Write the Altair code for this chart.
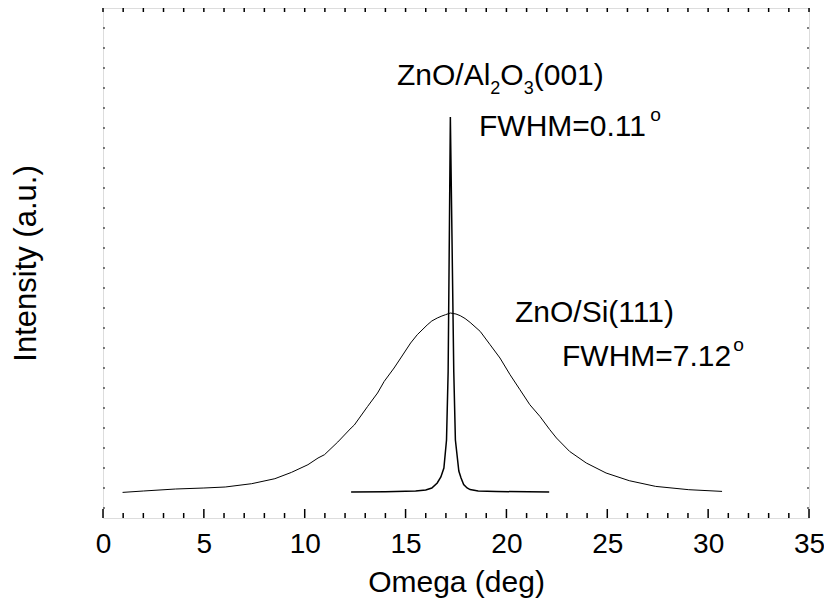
import altair as alt
import pandas as pd

# ---------------- data ----------------
# ZnO/Si(111) rocking curve (broad)
si_omega = [0.97, 2.0, 3.6, 5.0, 6.06, 7.37, 8.52, 9.34, 10.16, 10.66, 10.98, 11.64,
            12.3, 12.46, 13.12, 13.61, 13.94, 14.43, 14.76, 15.25, 15.58, 16.07, 16.3,
            16.57, 16.8, 16.98, 17.22, 17.5, 17.71, 17.95, 18.2, 18.7, 19.19, 19.68,
            20.18, 20.67, 21.16, 21.66, 22.15, 22.48, 23.13, 23.96, 24.94, 26.09,
            27.4, 29.04, 30.69]
si_int = [25.6, 27.0, 29.0, 30.0, 31.0, 34.3, 39.3, 45.6, 53.3, 60.0, 63.3, 76.0,
          90.0, 93.0, 111.6, 125.0, 136.6, 150.0, 160.0, 175.0, 183.3, 193.0, 197.0,
          200.0, 202.0, 203.3, 205.0, 204.0, 202.3, 199.5, 195.6, 186.6, 173.3, 160.0,
          143.3, 128.3, 113.3, 101.6, 88.3, 80.0, 66.6, 55.0, 45.0, 37.3,
          31.6, 28.3, 26.6]

# ZnO/Al2O3(001) rocking curve (narrow)
al_omega = [12.3, 14.0, 15.5, 16.0, 16.3, 16.57, 16.75, 16.9, 17.03, 17.11, 17.17,
            17.22, 17.3, 17.39, 17.47, 17.64, 17.75, 17.88, 18.05, 18.2, 18.6, 19.5, 22.12]
al_int = [26.0, 26.3, 27.0, 28.0, 30.0, 35.0, 41.0, 50.0, 78.0, 146.0, 282.0,
          401.0, 282.0, 146.0, 78.0, 47.0, 40.0, 33.5, 30.0, 28.4, 27.0, 26.5, 26.0]

x_major = [0, 5, 10, 15, 20, 25, 30, 35]
x_minor = [v for v in range(0, 36) if v % 5 != 0]
x_all = list(range(0, 36))
y_minor = [10 + 20 * k for k in range(25)]

# ---------------- layout ----------------
W, H = 706, 510
FONT = "Liberation Sans"
FS = 30

xs = alt.Scale(domain=[0, 35], nice=False, zero=False)
ys = alt.Scale(domain=[0, 510], nice=False, zero=False)

x_axis = alt.Axis(values=x_major, title="Omega (deg)", grid=False, ticks=False,
                  domain=False, labelFont=FONT, labelFontSize=28, labelColor="black",
                  labelPadding=12, titleFont=FONT, titleFontSize=FS,
                  titleFontWeight="normal", titleColor="black", titlePadding=9,
                  labelFlush=False)
y_axis = alt.Axis(labels=False, ticks=False, domain=False, grid=False,
                  title="Intensity (a.u.)", titleFont=FONT, titleFontSize=31,
                  titleFontWeight="normal", titleColor="black", titlePadding=61)

si_df = pd.DataFrame({"omega": si_omega, "intensity": si_int})
al_df = pd.DataFrame({"omega": al_omega, "intensity": al_int})

si_line = alt.Chart(si_df).mark_line(color="black", strokeWidth=1).encode(
    x=alt.X("omega:Q", scale=xs, axis=x_axis),
    y=alt.Y("intensity:Q", scale=ys, axis=y_axis),
)
al_line = alt.Chart(al_df).mark_line(color="black", strokeWidth=1.5).encode(
    x=alt.X("omega:Q", scale=xs, axis=x_axis),
    y=alt.Y("intensity:Q", scale=ys, axis=y_axis),
)

def xticks(vals, length, top):
    df = pd.DataFrame({"omega": vals})
    y0, y1 = (0, length) if top else (H, H - length)
    return alt.Chart(df).mark_rule(color="black", strokeWidth=1.5).encode(
        x=alt.X("omega:Q", scale=xs, axis=x_axis),
        y=alt.value(y0), y2=alt.value(y1))

def yticks(vals, length, right):
    df = pd.DataFrame({"intensity": vals})
    x0, x1 = (W, W - length) if right else (0, length)
    return alt.Chart(df).mark_rule(color="black", strokeWidth=1).encode(
        y=alt.Y("intensity:Q", scale=ys, axis=y_axis),
        x=alt.value(x0), x2=alt.value(x1))

# text helpers (Arial / Liberation Sans advance widths per 1000 em)
ADV = {'Z': 611, 'n': 556, 'O': 778, '/': 278, 'A': 667, 'l': 222, '2': 556, '3': 556,
       '(': 333, ')': 333, '0': 556, '1': 556, 'F': 611, 'W': 944, 'H': 722, 'M': 833,
       '=': 584, '.': 278, '7': 556, 'S': 667, 'i': 222, 'o': 556}

def adv(s, size):
    return sum(ADV.get(c, 556) for c in s) * size / 1000.0

one = pd.DataFrame({"k": [0]})

def rich(segments, x0, y0, size=FS):
    layers = []
    x = x0
    for s, kind in segments:
        if kind == "n":
            fs, yy = size, y0
        elif kind == "sub":
            fs, yy = size * 0.6, y0 + 9
        else:
            fs, yy = size * 0.64, y0 - 15
            x += 2
        layers.append(alt.Chart(one).mark_text(
            text=s, align="left", baseline="alphabetic", font=FONT,
            fontSize=fs, color="black").encode(x=alt.value(x), y=alt.value(yy)))
        x += adv(s, fs)
    return layers

labels = []
labels += rich([("ZnO/Al", "n"), ("2", "sub"), ("O", "n"), ("3", "sub"), ("(001)", "n")], 294, 77)
labels += rich([("FWHM=0.11", "n"), ("o", "sup")], 376, 128)
labels += rich([("ZnO/Si(111)", "n")], 412, 314)
labels += rich([("FWHM=7.12", "n"), ("o", "sup")], 459, 358)

chart = alt.layer(
    si_line, al_line,
    xticks(x_major, 9, False), xticks(x_minor, 5, False),
    xticks(x_all, 4, True),
    yticks(y_minor, 2, False), yticks(y_minor, 2, True),
    *labels,
).properties(
    width=W, height=H,
    padding={"left": 95, "top": 0, "right": 15, "bottom": 85},
    autosize=alt.AutoSizeParams(type="none"),
).configure_view(stroke="black", strokeWidth=2).configure(background="white")

chart.save("out.html", embed_options={"renderer": "svg", "actions": False})
